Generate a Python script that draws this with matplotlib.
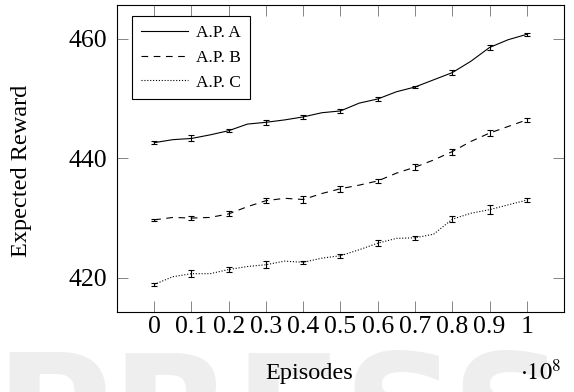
import matplotlib.pyplot as plt
import matplotlib.ticker as mticker

plt.rcParams['font.family'] = ['Liberation Serif', 'DejaVu Serif']
plt.rcParams['mathtext.fontset'] = 'stix'

# episodes (x 1e8), sampled every 0.05 for the curves
episodes = [0.0, 0.05, 0.1, 0.15, 0.2, 0.25, 0.3, 0.35, 0.4, 0.45, 0.5,
            0.55, 0.6, 0.65, 0.7, 0.75, 0.8, 0.85, 0.9, 0.95, 1.0]
reward_a = [442.6, 443.1, 443.3, 443.9, 444.6, 445.7, 446.0, 446.4, 446.9, 447.6, 447.9,
            449.2, 449.9, 451.1, 451.9, 453.1, 454.3, 456.2, 458.5, 459.8, 460.7]
reward_b = [429.7, 430.1, 430.0, 430.1, 430.7, 431.9, 432.9, 433.3, 433.1, 434.1, 434.9,
            435.5, 436.2, 437.5, 438.5, 439.7, 441.1, 442.8, 444.2, 445.3, 446.4]
reward_c = [418.9, 420.2, 420.7, 420.7, 421.4, 421.9, 422.2, 422.8, 422.6, 423.3, 423.7,
            424.7, 425.8, 426.6, 426.7, 427.3, 429.8, 430.8, 431.4, 432.2, 433.0]

# error bars every 0.1
err_x = [0.0, 0.1, 0.2, 0.3, 0.4, 0.5, 0.6, 0.7, 0.8, 0.9, 1.0]
err_a = [0.3, 0.5, 0.3, 0.4, 0.3, 0.3, 0.3, 0.2, 0.4, 0.4, 0.3]
err_b = [0.2, 0.4, 0.4, 0.4, 0.6, 0.5, 0.3, 0.5, 0.5, 0.5, 0.3]
err_c = [0.2, 0.6, 0.4, 0.6, 0.2, 0.3, 0.5, 0.3, 0.5, 0.8, 0.3]

tick_labels = ['0', '0.1', '0.2', '0.3', '0.4', '0.5', '0.6', '0.7', '0.8', '0.9', '1']
y_ticks = [420, 440, 460]
names = ['A.P. A', 'A.P. B', 'A.P. C']

fig = plt.figure(figsize=(5.74, 3.92), dpi=100)

# faint watermark in the background
fig.text(-0.01, -0.2, 'PRESS', fontsize=115, fontweight='bold', color='#eeeeee',
         family='DejaVu Sans', zorder=-10)

ax = fig.add_axes([0.2038, 0.2041, 0.7788, 0.7831])
ax.patch.set_alpha(0)

styles = [dict(linestyle='-'), dict(dashes=(6, 5)), dict(dashes=(1, 1.6))]
series = [(reward_a, err_a), (reward_b, err_b), (reward_c, err_c)]
handles = []
for (vals, errs), st, name in zip(series, styles, names):
    line, = ax.plot(episodes, vals, color='black', lw=0.8, label=name, **st)
    handles.append(line)
    yerr_vals = [vals[episodes.index(x)] for x in err_x]
    ax.errorbar(err_x, yerr_vals, yerr=errs, fmt='none', ecolor='black',
                elinewidth=0.8, capsize=2.4, capthick=0.8)

ax.set_xlim(-0.1, 1.1)
ax.set_ylim(414.3, 465.6)
ax.set_xticks(err_x)
ax.xaxis.set_major_formatter(mticker.FixedFormatter(tick_labels))
ax.set_yticks(y_ticks)
ax.tick_params(direction='in', length=8, width=0.5, top=True, right=True,
               labelsize=18.5, color='#555555')
ax.tick_params(axis='x', pad=3)
ax.tick_params(axis='y', pad=7)
for s in ax.spines.values():
    s.set_linewidth(0.8)

ax.set_xlabel('Episodes', fontsize=17.5)
ax.xaxis.set_label_coords(0.43, -0.165)
ax.set_ylabel('Expected Reward', fontsize=17.5)
ax.yaxis.set_label_coords(-0.19, 0.46)
fig.text(0.978, 0.05, r'$\cdot10^{8}$', fontsize=17.5, ha='right', va='center')

leg = ax.legend(handles=handles, loc='upper left', bbox_to_anchor=(0.0336, 0.964),
                borderaxespad=0, fontsize=12.5, fancybox=False, framealpha=1,
                edgecolor='black', handlelength=2.7, handletextpad=0.5,
                labelspacing=0.5, borderpad=0.5)
leg.get_frame().set_linewidth(0.8)

fig.savefig('out.png', dpi=100)
